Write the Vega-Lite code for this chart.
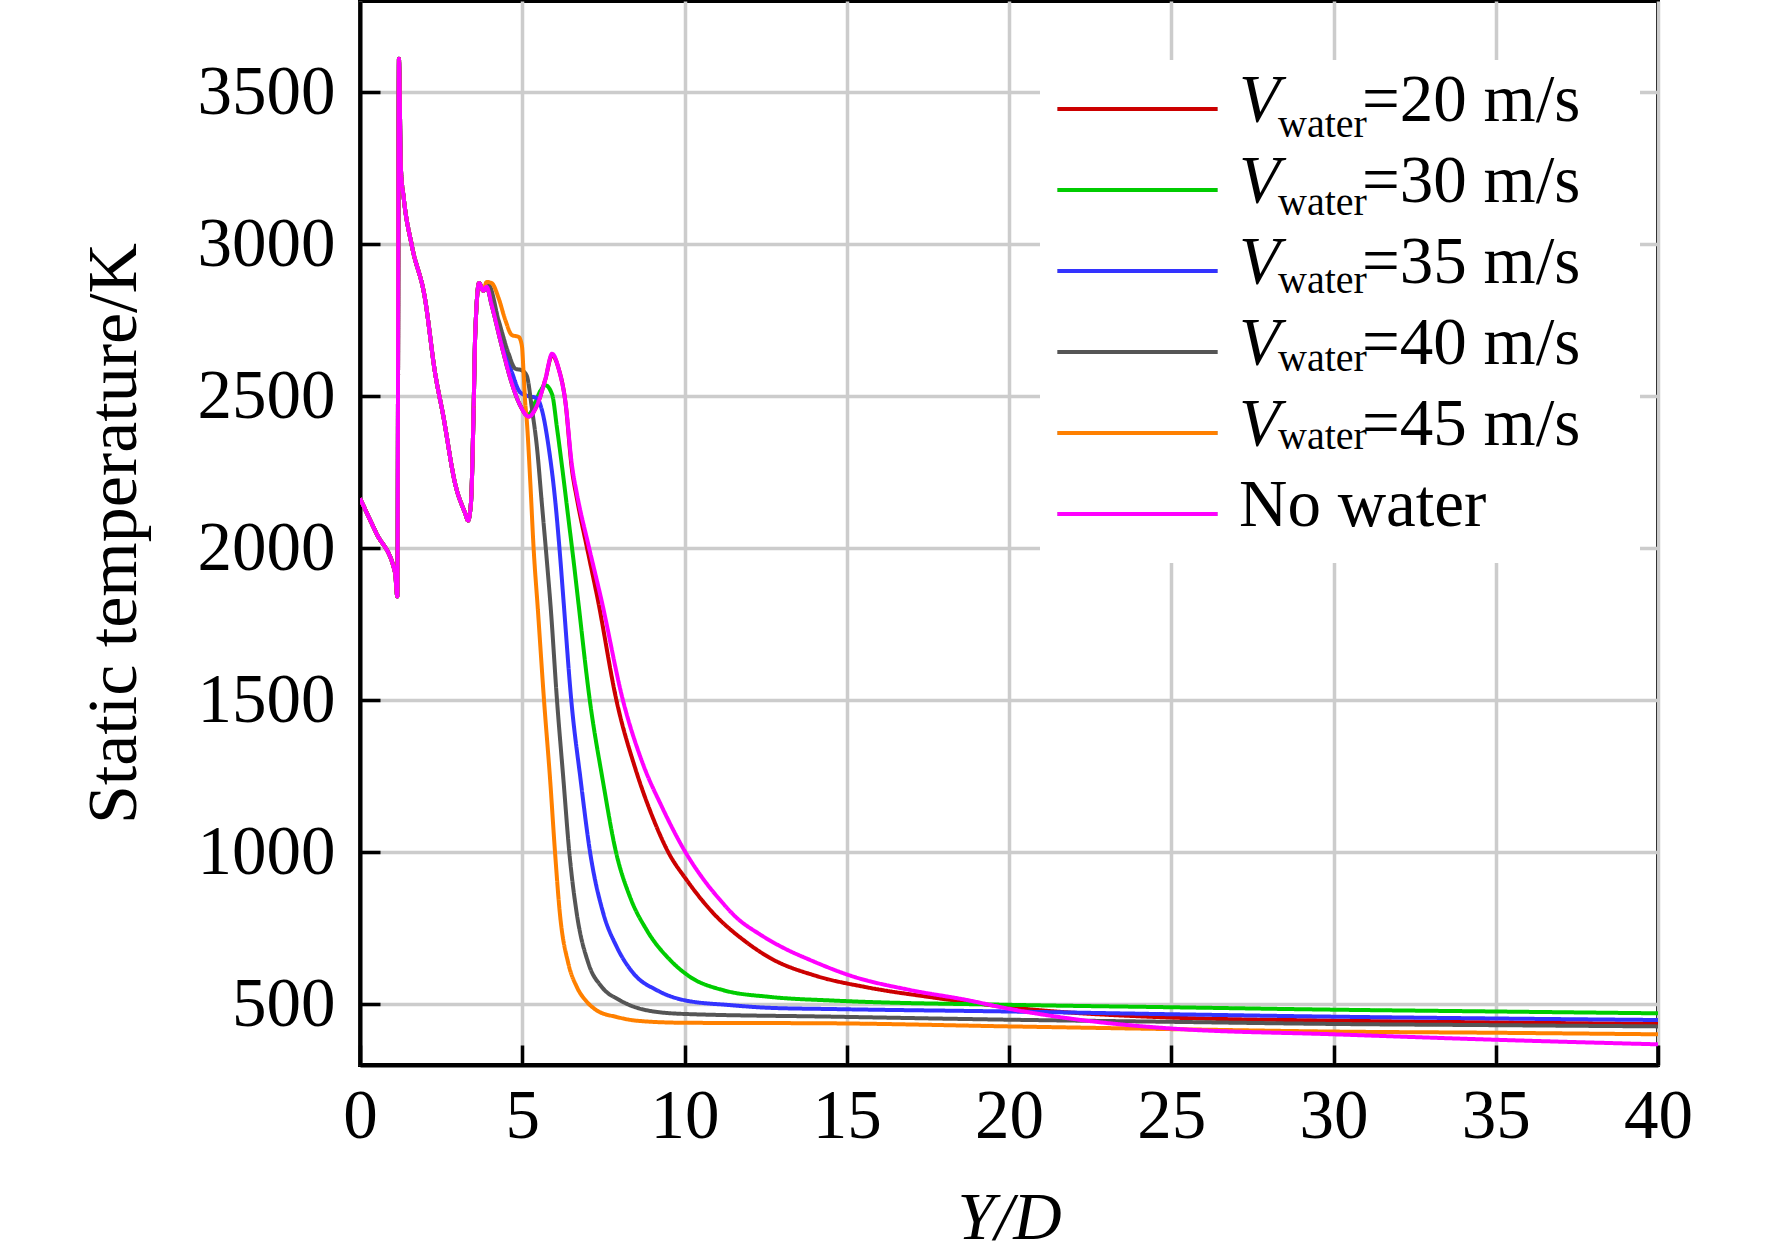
{
  "$schema": "https://vega.github.io/schema/vega-lite/v6.json",
  "width": 1298,
  "height": 1064,
  "autosize": {"type": "none"},
  "padding": {"left": 360, "top": 1, "right": 114, "bottom": 192},
  "background": "white",
  "data": {
    "values": [
      {"s": "20 m/s", "x": 0, "y": 2164}, {"s": "20 m/s", "x": 0.5, "y": 2050}, {"s": "20 m/s", "x": 1.08, "y": 1920}, {"s": "20 m/s", "x": 1.15, "y": 1841}, {"s": "20 m/s", "x": 1.2, "y": 3610}, {"s": "20 m/s", "x": 1.26, "y": 3250}, {"s": "20 m/s", "x": 1.35, "y": 3150}, {"s": "20 m/s", "x": 1.6, "y": 2994}, {"s": "20 m/s", "x": 2.0, "y": 2823}, {"s": "20 m/s", "x": 2.31, "y": 2579}, {"s": "20 m/s", "x": 2.57, "y": 2433}, {"s": "20 m/s", "x": 2.93, "y": 2213}, {"s": "20 m/s", "x": 3.24, "y": 2115}, {"s": "20 m/s", "x": 3.33, "y": 2091}, {"s": "20 m/s", "x": 3.42, "y": 2150}, {"s": "20 m/s", "x": 3.5, "y": 2450}, {"s": "20 m/s", "x": 3.55, "y": 2701}, {"s": "20 m/s", "x": 3.67, "y": 2872}, {"s": "20 m/s", "x": 3.8, "y": 2847},
      {"s": "20 m/s", "x": 3.9, "y": 2860}, {"s": "20 m/s", "x": 4.06, "y": 2799}, {"s": "20 m/s", "x": 4.37, "y": 2664}, {"s": "20 m/s", "x": 4.68, "y": 2542}, {"s": "20 m/s", "x": 4.94, "y": 2469}, {"s": "20 m/s", "x": 5.2, "y": 2433}, {"s": "20 m/s", "x": 5.45, "y": 2469}, {"s": "20 m/s", "x": 5.71, "y": 2555}, {"s": "20 m/s", "x": 5.92, "y": 2635}, {"s": "20 m/s", "x": 6.12, "y": 2591}, {"s": "20 m/s", "x": 6.33, "y": 2481}, {"s": "20 m/s", "x": 6.53, "y": 2260}, {"s": "20 m/s", "x": 6.69, "y": 2160}, {"s": "20 m/s", "x": 7.02, "y": 1989}, {"s": "20 m/s", "x": 7.33, "y": 1830}, {"s": "20 m/s", "x": 7.9, "y": 1501}, {"s": "20 m/s", "x": 8.5, "y": 1270}, {"s": "20 m/s", "x": 9.0, "y": 1120}, {"s": "20 m/s", "x": 9.5, "y": 1000}, {"s": "20 m/s", "x": 10.07, "y": 908}, {"s": "20 m/s", "x": 10.9, "y": 798}, {"s": "20 m/s", "x": 11.82, "y": 711}, {"s": "20 m/s", "x": 12.64, "y": 652}, {"s": "20 m/s", "x": 14.06, "y": 593}, {"s": "20 m/s", "x": 15.6, "y": 556}, {"s": "20 m/s", "x": 17.66, "y": 522}, {"s": "20 m/s", "x": 20, "y": 490}, {"s": "20 m/s", "x": 25, "y": 456}, {"s": "20 m/s", "x": 30, "y": 446}, {"s": "20 m/s", "x": 35, "y": 440}, {"s": "20 m/s", "x": 40, "y": 435},

      {"s": "30 m/s", "x": 0, "y": 2164}, {"s": "30 m/s", "x": 0.5, "y": 2050}, {"s": "30 m/s", "x": 1.08, "y": 1920}, {"s": "30 m/s", "x": 1.15, "y": 1841}, {"s": "30 m/s", "x": 1.2, "y": 3610}, {"s": "30 m/s", "x": 1.26, "y": 3250}, {"s": "30 m/s", "x": 1.35, "y": 3150}, {"s": "30 m/s", "x": 1.6, "y": 2994}, {"s": "30 m/s", "x": 2.0, "y": 2823}, {"s": "30 m/s", "x": 2.31, "y": 2579}, {"s": "30 m/s", "x": 2.57, "y": 2433}, {"s": "30 m/s", "x": 2.93, "y": 2213}, {"s": "30 m/s", "x": 3.24, "y": 2115}, {"s": "30 m/s", "x": 3.33, "y": 2091}, {"s": "30 m/s", "x": 3.42, "y": 2150}, {"s": "30 m/s", "x": 3.5, "y": 2450}, {"s": "30 m/s", "x": 3.55, "y": 2701}, {"s": "30 m/s", "x": 3.67, "y": 2872}, {"s": "30 m/s", "x": 3.8, "y": 2847},
      {"s": "30 m/s", "x": 3.9, "y": 2860}, {"s": "30 m/s", "x": 4.06, "y": 2799}, {"s": "30 m/s", "x": 4.37, "y": 2664}, {"s": "30 m/s", "x": 4.68, "y": 2542}, {"s": "30 m/s", "x": 4.94, "y": 2469}, {"s": "30 m/s", "x": 5.2, "y": 2440}, {"s": "30 m/s", "x": 5.4, "y": 2480}, {"s": "30 m/s", "x": 5.56, "y": 2518}, {"s": "30 m/s", "x": 5.71, "y": 2536}, {"s": "30 m/s", "x": 5.92, "y": 2506}, {"s": "30 m/s", "x": 6.07, "y": 2396}, {"s": "30 m/s", "x": 6.22, "y": 2274}, {"s": "30 m/s", "x": 6.43, "y": 2091}, {"s": "30 m/s", "x": 6.58, "y": 1960}, {"s": "30 m/s", "x": 6.72, "y": 1830}, {"s": "30 m/s", "x": 7.08, "y": 1501}, {"s": "30 m/s", "x": 7.48, "y": 1237}, {"s": "30 m/s", "x": 7.89, "y": 1000}, {"s": "30 m/s", "x": 8.32, "y": 853}, {"s": "30 m/s", "x": 8.84, "y": 743}, {"s": "30 m/s", "x": 9.56, "y": 645}, {"s": "30 m/s", "x": 10.17, "y": 590}, {"s": "30 m/s", "x": 11.2, "y": 546}, {"s": "30 m/s", "x": 12.64, "y": 524}, {"s": "30 m/s", "x": 14.58, "y": 512}, {"s": "30 m/s", "x": 20, "y": 498}, {"s": "30 m/s", "x": 25, "y": 490}, {"s": "30 m/s", "x": 30, "y": 482}, {"s": "30 m/s", "x": 35, "y": 476}, {"s": "30 m/s", "x": 40, "y": 470},

      {"s": "35 m/s", "x": 0, "y": 2164}, {"s": "35 m/s", "x": 0.5, "y": 2050}, {"s": "35 m/s", "x": 1.08, "y": 1920}, {"s": "35 m/s", "x": 1.15, "y": 1841}, {"s": "35 m/s", "x": 1.2, "y": 3610}, {"s": "35 m/s", "x": 1.26, "y": 3250}, {"s": "35 m/s", "x": 1.35, "y": 3150}, {"s": "35 m/s", "x": 1.6, "y": 2994}, {"s": "35 m/s", "x": 2.0, "y": 2823}, {"s": "35 m/s", "x": 2.31, "y": 2579}, {"s": "35 m/s", "x": 2.57, "y": 2433}, {"s": "35 m/s", "x": 2.93, "y": 2213}, {"s": "35 m/s", "x": 3.24, "y": 2115}, {"s": "35 m/s", "x": 3.33, "y": 2091}, {"s": "35 m/s", "x": 3.42, "y": 2150}, {"s": "35 m/s", "x": 3.5, "y": 2450}, {"s": "35 m/s", "x": 3.55, "y": 2701}, {"s": "35 m/s", "x": 3.67, "y": 2872}, {"s": "35 m/s", "x": 3.8, "y": 2847},
      {"s": "35 m/s", "x": 3.9, "y": 2860}, {"s": "35 m/s", "x": 4.06, "y": 2805}, {"s": "35 m/s", "x": 4.37, "y": 2680}, {"s": "35 m/s", "x": 4.68, "y": 2579}, {"s": "35 m/s", "x": 4.94, "y": 2512}, {"s": "35 m/s", "x": 5.2, "y": 2500}, {"s": "35 m/s", "x": 5.45, "y": 2494}, {"s": "35 m/s", "x": 5.6, "y": 2457}, {"s": "35 m/s", "x": 5.81, "y": 2335}, {"s": "35 m/s", "x": 6.02, "y": 2152}, {"s": "35 m/s", "x": 6.17, "y": 1969}, {"s": "35 m/s", "x": 6.27, "y": 1830}, {"s": "35 m/s", "x": 6.51, "y": 1501}, {"s": "35 m/s", "x": 6.8, "y": 1237}, {"s": "35 m/s", "x": 7.09, "y": 1000}, {"s": "35 m/s", "x": 7.5, "y": 798}, {"s": "35 m/s", "x": 7.91, "y": 689}, {"s": "35 m/s", "x": 8.43, "y": 601}, {"s": "35 m/s", "x": 9.15, "y": 546}, {"s": "35 m/s", "x": 10.0, "y": 513}, {"s": "35 m/s", "x": 11.41, "y": 497}, {"s": "35 m/s", "x": 12.64, "y": 488}, {"s": "35 m/s", "x": 14.58, "y": 484}, {"s": "35 m/s", "x": 20, "y": 476}, {"s": "35 m/s", "x": 25, "y": 467}, {"s": "35 m/s", "x": 30, "y": 459}, {"s": "35 m/s", "x": 35, "y": 453}, {"s": "35 m/s", "x": 40, "y": 448},

      {"s": "40 m/s", "x": 0, "y": 2164}, {"s": "40 m/s", "x": 0.5, "y": 2050}, {"s": "40 m/s", "x": 1.08, "y": 1920}, {"s": "40 m/s", "x": 1.15, "y": 1841}, {"s": "40 m/s", "x": 1.2, "y": 3610}, {"s": "40 m/s", "x": 1.26, "y": 3250}, {"s": "40 m/s", "x": 1.35, "y": 3150}, {"s": "40 m/s", "x": 1.6, "y": 2994}, {"s": "40 m/s", "x": 2.0, "y": 2823}, {"s": "40 m/s", "x": 2.31, "y": 2579}, {"s": "40 m/s", "x": 2.57, "y": 2433}, {"s": "40 m/s", "x": 2.93, "y": 2213}, {"s": "40 m/s", "x": 3.24, "y": 2115}, {"s": "40 m/s", "x": 3.33, "y": 2091}, {"s": "40 m/s", "x": 3.42, "y": 2150}, {"s": "40 m/s", "x": 3.5, "y": 2450}, {"s": "40 m/s", "x": 3.55, "y": 2701}, {"s": "40 m/s", "x": 3.67, "y": 2872}, {"s": "40 m/s", "x": 3.8, "y": 2847},
      {"s": "40 m/s", "x": 3.96, "y": 2866}, {"s": "40 m/s", "x": 4.27, "y": 2750}, {"s": "40 m/s", "x": 4.58, "y": 2640}, {"s": "40 m/s", "x": 4.78, "y": 2591}, {"s": "40 m/s", "x": 4.99, "y": 2585}, {"s": "40 m/s", "x": 5.14, "y": 2567}, {"s": "40 m/s", "x": 5.3, "y": 2457}, {"s": "40 m/s", "x": 5.45, "y": 2335}, {"s": "40 m/s", "x": 5.6, "y": 2152}, {"s": "40 m/s", "x": 5.75, "y": 1969}, {"s": "40 m/s", "x": 5.88, "y": 1800}, {"s": "40 m/s", "x": 6.07, "y": 1501}, {"s": "40 m/s", "x": 6.27, "y": 1237}, {"s": "40 m/s", "x": 6.45, "y": 1000}, {"s": "40 m/s", "x": 6.68, "y": 798}, {"s": "40 m/s", "x": 7.04, "y": 634}, {"s": "40 m/s", "x": 7.45, "y": 557}, {"s": "40 m/s", "x": 8.01, "y": 513}, {"s": "40 m/s", "x": 8.84, "y": 480}, {"s": "40 m/s", "x": 9.97, "y": 468}, {"s": "40 m/s", "x": 14.58, "y": 459}, {"s": "40 m/s", "x": 20, "y": 449}, {"s": "40 m/s", "x": 25, "y": 442}, {"s": "40 m/s", "x": 30, "y": 435}, {"s": "40 m/s", "x": 35, "y": 431}, {"s": "40 m/s", "x": 40, "y": 427},

      {"s": "45 m/s", "x": 0, "y": 2164}, {"s": "45 m/s", "x": 0.5, "y": 2050}, {"s": "45 m/s", "x": 1.08, "y": 1920}, {"s": "45 m/s", "x": 1.15, "y": 1841}, {"s": "45 m/s", "x": 1.2, "y": 3610}, {"s": "45 m/s", "x": 1.26, "y": 3250}, {"s": "45 m/s", "x": 1.35, "y": 3150}, {"s": "45 m/s", "x": 1.6, "y": 2994}, {"s": "45 m/s", "x": 2.0, "y": 2823}, {"s": "45 m/s", "x": 2.31, "y": 2579}, {"s": "45 m/s", "x": 2.57, "y": 2433}, {"s": "45 m/s", "x": 2.93, "y": 2213}, {"s": "45 m/s", "x": 3.24, "y": 2115}, {"s": "45 m/s", "x": 3.33, "y": 2091}, {"s": "45 m/s", "x": 3.42, "y": 2150}, {"s": "45 m/s", "x": 3.5, "y": 2450}, {"s": "45 m/s", "x": 3.55, "y": 2701}, {"s": "45 m/s", "x": 3.67, "y": 2872}, {"s": "45 m/s", "x": 3.8, "y": 2847},
      {"s": "45 m/s", "x": 3.9, "y": 2876}, {"s": "45 m/s", "x": 4.06, "y": 2872}, {"s": "45 m/s", "x": 4.27, "y": 2823}, {"s": "45 m/s", "x": 4.48, "y": 2750}, {"s": "45 m/s", "x": 4.68, "y": 2701}, {"s": "45 m/s", "x": 4.89, "y": 2695}, {"s": "45 m/s", "x": 4.99, "y": 2665}, {"s": "45 m/s", "x": 5.04, "y": 2579}, {"s": "45 m/s", "x": 5.09, "y": 2481}, {"s": "45 m/s", "x": 5.14, "y": 2420}, {"s": "45 m/s", "x": 5.25, "y": 2213}, {"s": "45 m/s", "x": 5.35, "y": 2000}, {"s": "45 m/s", "x": 5.48, "y": 1800}, {"s": "45 m/s", "x": 5.67, "y": 1501}, {"s": "45 m/s", "x": 5.86, "y": 1237}, {"s": "45 m/s", "x": 6.01, "y": 1000}, {"s": "45 m/s", "x": 6.16, "y": 798}, {"s": "45 m/s", "x": 6.42, "y": 634}, {"s": "45 m/s", "x": 6.68, "y": 557}, {"s": "45 m/s", "x": 6.99, "y": 508}, {"s": "45 m/s", "x": 7.29, "y": 480}, {"s": "45 m/s", "x": 7.91, "y": 458}, {"s": "45 m/s", "x": 8.6, "y": 445}, {"s": "45 m/s", "x": 9.95, "y": 439}, {"s": "45 m/s", "x": 14.6, "y": 437}, {"s": "45 m/s", "x": 20, "y": 427}, {"s": "45 m/s", "x": 25, "y": 418}, {"s": "45 m/s", "x": 30, "y": 410}, {"s": "45 m/s", "x": 35, "y": 406}, {"s": "45 m/s", "x": 40, "y": 401},

      {"s": "No water", "x": 0, "y": 2164}, {"s": "No water", "x": 0.5, "y": 2050}, {"s": "No water", "x": 1.08, "y": 1920}, {"s": "No water", "x": 1.15, "y": 1841}, {"s": "No water", "x": 1.2, "y": 3610}, {"s": "No water", "x": 1.26, "y": 3250}, {"s": "No water", "x": 1.35, "y": 3150}, {"s": "No water", "x": 1.6, "y": 2994}, {"s": "No water", "x": 2.0, "y": 2823}, {"s": "No water", "x": 2.31, "y": 2579}, {"s": "No water", "x": 2.57, "y": 2433}, {"s": "No water", "x": 2.93, "y": 2213}, {"s": "No water", "x": 3.24, "y": 2115}, {"s": "No water", "x": 3.33, "y": 2091}, {"s": "No water", "x": 3.42, "y": 2150}, {"s": "No water", "x": 3.5, "y": 2450}, {"s": "No water", "x": 3.55, "y": 2701}, {"s": "No water", "x": 3.67, "y": 2872}, {"s": "No water", "x": 3.8, "y": 2847},
      {"s": "No water", "x": 3.9, "y": 2860}, {"s": "No water", "x": 4.06, "y": 2799}, {"s": "No water", "x": 4.37, "y": 2664}, {"s": "No water", "x": 4.68, "y": 2542}, {"s": "No water", "x": 4.94, "y": 2469}, {"s": "No water", "x": 5.2, "y": 2433}, {"s": "No water", "x": 5.45, "y": 2469}, {"s": "No water", "x": 5.71, "y": 2555}, {"s": "No water", "x": 5.92, "y": 2640}, {"s": "No water", "x": 6.12, "y": 2591}, {"s": "No water", "x": 6.33, "y": 2481}, {"s": "No water", "x": 6.53, "y": 2274}, {"s": "No water", "x": 6.69, "y": 2176}, {"s": "No water", "x": 7.05, "y": 2006}, {"s": "No water", "x": 7.44, "y": 1830}, {"s": "No water", "x": 8.1, "y": 1501}, {"s": "No water", "x": 8.72, "y": 1290}, {"s": "No water", "x": 9.3, "y": 1150}, {"s": "No water", "x": 10.03, "y": 1000}, {"s": "No water", "x": 10.59, "y": 910}, {"s": "No water", "x": 11.08, "y": 845}, {"s": "No water", "x": 11.6, "y": 785}, {"s": "No water", "x": 12.32, "y": 730}, {"s": "No water", "x": 13.0, "y": 688}, {"s": "No water", "x": 13.86, "y": 646}, {"s": "No water", "x": 15.2, "y": 591}, {"s": "No water", "x": 16.94, "y": 547}, {"s": "No water", "x": 18.69, "y": 514}, {"s": "No water", "x": 20, "y": 485}, {"s": "No water", "x": 22.3, "y": 447}, {"s": "No water", "x": 25, "y": 420}, {"s": "No water", "x": 30, "y": 401}, {"s": "No water", "x": 35, "y": 383}, {"s": "No water", "x": 40, "y": 368}
    ]
  },
  "transform": [
    {"calculate": "datum.s", "as": "s2"},
    {"calculate": "datum.s", "as": "s3"}
  ],
  "mark": {"type": "line", "strokeWidth": 4, "interpolate": "monotone", "clip": true},
  "encoding": {
    "x": {
      "field": "x",
      "type": "quantitative",
      "scale": {"domain": [0, 40], "nice": false},
      "axis": {"values": [0, 5, 10, 15, 20, 25, 30, 35, 40], "format": "d", "title": "Y/D", "titleFontStyle": "italic", "titleFontSize": 67, "labelPadding": 37, "titlePadding": 34}
    },
    "y": {
      "field": "y",
      "type": "quantitative",
      "scale": {"domain": [300, 3800], "nice": false, "zero": false},
      "axis": {"values": [500, 1000, 1500, 2000, 2500, 3000, 3500], "format": "d", "title": "Static temperature/K", "titleFontSize": 70, "labelPadding": 45, "titlePadding": 47}
    },
    "color": {
      "field": "s",
      "type": "nominal",
      "scale": {"range": ["#cc0000", "#00cc00", "#3333ff", "#555555", "#ff8000", "#ff00ff"]},
      "legend": {
        "zindex": 2,
        "labelExpr": "datum.value == 'No water' ? 'No water' : 'V'",
        "encode": {
          "labels": {"update": {"dy": {"value": -8}, "fontStyle": {"signal": "datum.value == 'No water' ? 'normal' : 'italic'"}}}
        }
      }
    },
    "strokeDash": {
      "field": "s2",
      "type": "nominal",
      "scale": {"range": [[1, 0]]},
      "legend": {
        "zindex": 2,
        "labelFontSize": 40,
        "labelExpr": "datum.value == 'No water' ? '' : 'water'",
        "encode": {
          "symbols": {"update": {"opacity": {"value": 0}}},
          "labels": {"update": {"dx": {"value": 62}, "dy": {"value": 16}}}
        }
      }
    },
    "opacity": {
      "field": "s3",
      "type": "nominal",
      "scale": {"range": [1, 1]},
      "legend": {
        "zindex": 1,
        "fillColor": "white",
        "labelExpr": "datum.value == 'No water' ? '' : '=' + datum.value + '\u2800'",
        "encode": {
          "symbols": {"update": {"opacity": {"value": 0}}},
          "labels": {"update": {"dx": {"value": 123}, "dy": {"value": -8}}}
        }
      }
    }
  },
  "config": {
    "view": {"stroke": "black", "strokeWidth": 4},
    "axis": {
      "grid": true,
      "gridColor": "#cccccc",
      "gridWidth": 3.5,
      "domainColor": "black",
      "domainWidth": 4,
      "tickColor": "black",
      "tickWidth": 3.5,
      "tickSize": -20,
      "labelFont": "Liberation Serif",
      "labelFontSize": 69,
      "labelColor": "black",
      "labelFlush": false,
      "labelOverlap": false,
      "titleFont": "Liberation Serif",
      "titleFontWeight": "normal",
      "titleColor": "black"
    },
    "legend": {
      "orient": "none",
      "legendX": 680,
      "legendY": 59,
      "title": null,
      "padding": 10,
      "symbolType": "M-4,0H4",
      "symbolSize": 1600,
      "symbolStrokeWidth": 4,
      "symbolOffset": 54,
      "labelOffset": 68,
      "labelFont": "Liberation Serif",
      "labelFontSize": 67,
      "labelColor": "black",
      "labelLimit": 1000,
      "clipHeight": 78,
      "rowPadding": 0
    }
  }
}
